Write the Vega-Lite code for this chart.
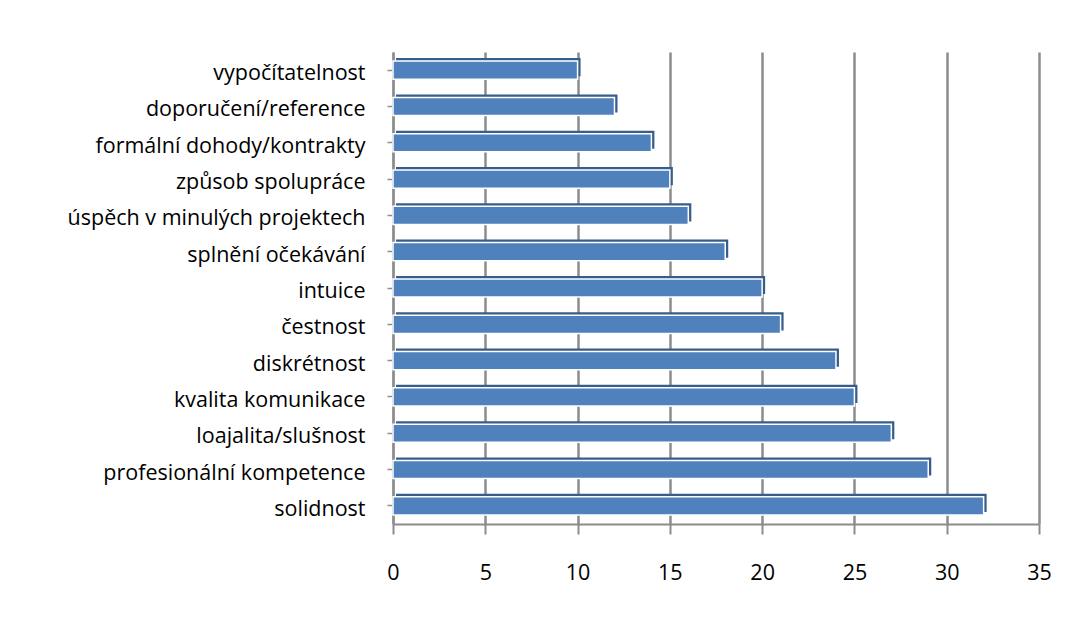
{
  "$schema": "https://vega.github.io/schema/vega-lite/v6.json",
  "autosize": "none",
  "width": 646,
  "height": 472,
  "padding": {"left": 393, "top": 52, "right": 49, "bottom": 93},
  "background": "white",
  "config": {
    "font": "Open Sans",
    "view": {"stroke": null}
  },
  "data": {
    "values": [
      {"kategorie": "vypočítatelnost", "hodnota": 10},
      {"kategorie": "doporučení/reference", "hodnota": 12},
      {"kategorie": "formální dohody/kontrakty", "hodnota": 14},
      {"kategorie": "způsob spolupráce", "hodnota": 15},
      {"kategorie": "úspěch v minulých projektech", "hodnota": 16},
      {"kategorie": "splnění očekávání", "hodnota": 18},
      {"kategorie": "intuice", "hodnota": 20},
      {"kategorie": "čestnost", "hodnota": 21},
      {"kategorie": "diskrétnost", "hodnota": 24},
      {"kategorie": "kvalita komunikace", "hodnota": 25},
      {"kategorie": "loajalita/slušnost", "hodnota": 27},
      {"kategorie": "profesionální kompetence", "hodnota": 29},
      {"kategorie": "solidnost", "hodnota": 32}
    ]
  },
  "encoding": {
    "y": {
      "field": "kategorie",
      "type": "nominal",
      "sort": null,
      "scale": {"paddingInner": 0.5, "paddingOuter": 0.25},
      "axis": {
        "title": null,
        "labelFont": "Open Sans",
        "labelFontSize": 21.5,
        "labelColor": "#000000",
        "labelLimit": 0,
        "labelBaseline": "middle",
        "labelOffset": 4,
        "domainColor": "#8c8c8c",
        "domainWidth": 2,
        "tickColor": "#8c8c8c",
        "tickSize": 6,
        "tickWidth": 1.5,
        "labelPadding": 22,
        "grid": false
      }
    },
    "x": {
      "field": "hodnota",
      "type": "quantitative",
      "scale": {"domain": [0, 35], "nice": false},
      "axis": {
        "title": null,
        "values": [0, 5, 10, 15, 20, 25, 30, 35],
        "labelFont": "Open Sans",
        "labelFontSize": 21.5,
        "labelColor": "#000000",
        "grid": true,
        "gridColor": "#8c8c8c",
        "gridWidth": 2.5,
        "domainColor": "#8c8c8c",
        "domainWidth": 2,
        "tickColor": "#8c8c8c",
        "tickWidth": 2,
        "tickSize": 10,
        "labelPadding": 28,
        "labelAlign": "center"
      }
    }
  },
  "layer": [
    {
      "mark": {"type": "bar", "color": "#385D8A", "xOffset": 3, "yOffset": -3}
    },
    {
      "mark": {"type": "bar", "color": "#4F81BD", "stroke": "white", "strokeWidth": 1.5}
    }
  ]
}
